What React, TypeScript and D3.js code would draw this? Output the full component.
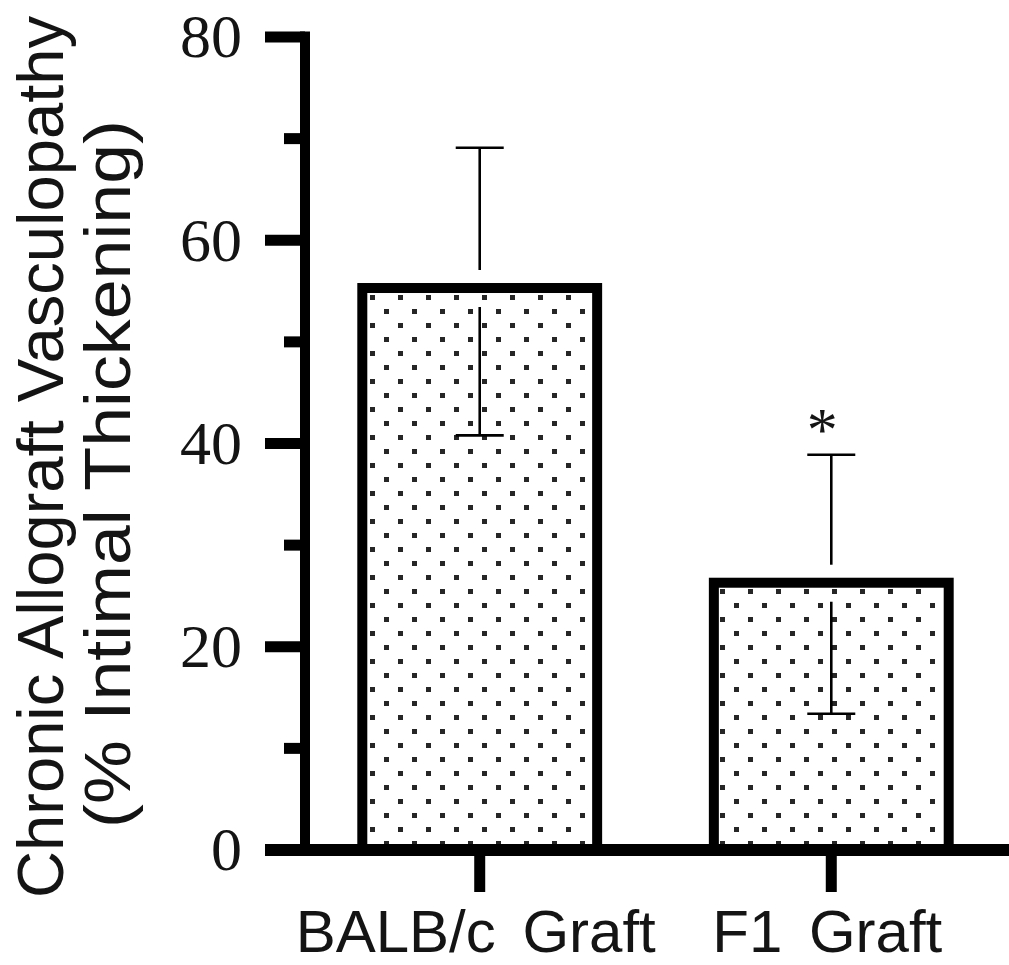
import React from "react";
import { scaleLinear, scaleBand } from "d3";

const width = 1009;
const height = 965;

// data
const groups = ["BALB/c Graft", "F1 Graft"];
const means = [55.3, 26.3];
const errUpper = [13.8, 12.6];
const errLower = [14.5, 12.9];
const significant = [false, true];
const majorTicks = [0, 20, 40, 60, 80];
const minorTicks = [10, 30, 50, 70];
const yTitleLines = ["Chronic Allograft Vasculopathy", "(% Intimal Thickening)"];

const axisX = 305;
const yScale = scaleLinear().domain([0, 80]).range([850, 37]);
const xScale = scaleBand<string>()
  .domain(groups)
  .range([axisX, 1006])
  .paddingInner(0.332)
  .paddingOuter(0.163);

const ink = "#000";
const textInk = "#141414";
const capHalf = 24;
const edgeGap = 18; // error line stops short of the bar's top edge

const App = () => {
  const bw = xScale.bandwidth();
  return (
    <svg
      width={width}
      height={height}
      style={{ position: "absolute", left: 0, top: 0, background: "#fff" }}
    >
      <defs>
        <pattern
          id="dots"
          patternUnits="userSpaceOnUse"
          x={6}
          y={15}
          width={28}
          height={28}
        >
          <rect x={0} y={0} width={5} height={5} fill="#262626" />
          <rect x={14} y={14} width={5} height={5} fill="#262626" />
        </pattern>
      </defs>

      {/* y axis title */}
      {yTitleLines.map((t, i) => (
        <text
          key={t}
          transform={`translate(${63 + i * 67}, ${i === 0 ? 898 : 828}) rotate(-90)`}
          fontFamily="'Liberation Sans', Arial, sans-serif"
          fontSize={64}
          fill={textInk}
          textLength={i === 0 ? 882 : 708}
          lengthAdjust="spacingAndGlyphs"
        >
          {t}
        </text>
      ))}

      {/* bars */}
      {groups.map((g, i) => (
        <rect
          key={g}
          x={xScale(g)}
          y={yScale(means[i])}
          width={bw}
          height={yScale(0) - yScale(means[i])}
          fill="url(#dots)"
          stroke={ink}
          strokeWidth={10}
        />
      ))}

      {/* error bars */}
      {groups.map((g, i) => {
        const cx = (xScale(g) as number) + bw / 2;
        const mid = yScale(means[i]);
        const top = yScale(means[i] + errUpper[i]);
        const bot = yScale(means[i] - errLower[i]);
        return (
          <g key={g} stroke={ink} strokeWidth={2.6}>
            <line x1={cx} x2={cx} y1={top} y2={mid - edgeGap} />
            <line x1={cx} x2={cx} y1={mid + edgeGap + 1} y2={bot} />
            <line x1={cx - capHalf} x2={cx + capHalf} y1={top} y2={top} />
            <line x1={cx - capHalf} x2={cx + capHalf} y1={bot} y2={bot} />
          </g>
        );
      })}

      {/* significance */}
      {groups.map((g, i) =>
        significant[i] ? (
          <text
            key={g}
            x={(xScale(g) as number) + bw / 2 - 9}
            y={yScale(means[i] + errUpper[i]) - 5}
            textAnchor="middle"
            fontFamily="'Liberation Serif', 'Times New Roman', serif"
            fontSize={62}
            fill={textInk}
          >
            *
          </text>
        ) : null
      )}

      {/* y axis */}
      <line x1={axisX} x2={axisX} y1={yScale(80) - 5.5} y2={yScale(0)} stroke={ink} strokeWidth={10} />
      {majorTicks.map((t) => (
        <g key={t}>
          <line
            x1={265}
            x2={axisX}
            y1={yScale(t)}
            y2={yScale(t)}
            stroke={ink}
            strokeWidth={t === 0 ? 12 : 11}
          />
          <text
            x={242}
            y={yScale(t)}
            dy="0.33em"
            textAnchor="end"
            fontFamily="'Liberation Serif', 'Times New Roman', serif"
            fontSize={62}
            fill={textInk}
          >
            {t}
          </text>
        </g>
      ))}
      {minorTicks.map((t) => (
        <line
          key={t}
          x1={284}
          x2={axisX}
          y1={yScale(t)}
          y2={yScale(t)}
          stroke={ink}
          strokeWidth={11}
        />
      ))}

      {/* x axis */}
      <line x1={265} x2={width} y1={yScale(0)} y2={yScale(0)} stroke={ink} strokeWidth={12} />
      {groups.map((g) => {
        const cx = (xScale(g) as number) + bw / 2;
        return (
          <g key={g}>
            <line x1={cx} x2={cx} y1={yScale(0)} y2={892} stroke={ink} strokeWidth={11} />
            <text
              x={cx - 4}
              y={952}
              textAnchor="middle"
              fontFamily="'Liberation Sans', Arial, sans-serif"
              fontSize={60}
              wordSpacing={10}
              fill={textInk}
            >
              {g}
            </text>
          </g>
        );
      })}
    </svg>
  );
};

export default App;
